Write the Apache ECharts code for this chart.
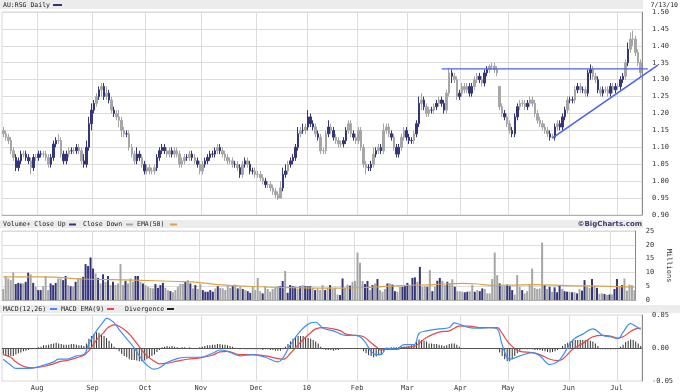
<!DOCTYPE html>
<html><head><meta charset="utf-8">
<script src="https://cdn.jsdelivr.net/npm/echarts@6/dist/echarts.min.js"></script>
<style>html,body{margin:0;padding:0;background:#fff}#c{width:680px;height:392px}</style>
</head><body><div id="c"></div>
<script>
// ---- price bars (AU:RSG daily) ----
const closes = [
1.14,1.13,1.12,1.09,1.07,1.04,1.06,1.08,1.08,1.07,
1.06,1.04,1.07,1.07,1.08,1.08,1.08,1.07,1.05,1.07,
1.11,1.12,1.12,1.08,1.06,1.08,1.09,1.09,1.09,1.10,
1.09,1.06,1.05,1.10,1.17,1.21,1.23,1.25,1.27,1.28,
1.25,1.26,1.24,1.21,1.20,1.19,1.18,1.15,1.14,1.14,
1.10,1.08,1.06,1.08,1.07,1.05,1.03,1.04,1.03,1.03,
1.04,1.07,1.09,1.10,1.09,1.08,1.09,1.08,1.09,1.08,
1.05,1.06,1.07,1.07,1.08,1.07,1.06,1.05,1.03,1.05,
1.06,1.07,1.08,1.08,1.09,1.10,1.09,1.08,1.07,1.06,
1.06,1.05,1.05,1.04,1.02,1.05,1.06,1.05,1.03,1.03,
1.02,1.02,1.01,1.00,0.99,0.99,0.98,0.97,0.96,0.95,
0.98,1.02,1.03,1.05,1.06,1.07,1.10,1.14,1.15,1.15,
1.16,1.19,1.17,1.16,1.14,1.13,1.09,1.09,1.14,1.16,
1.15,1.13,1.12,1.11,1.11,1.12,1.15,1.17,1.14,1.13,
1.12,1.15,1.10,1.05,1.04,1.04,1.05,1.08,1.09,1.10,
1.09,1.15,1.16,1.14,1.13,1.10,1.08,1.10,1.13,1.15,
1.13,1.12,1.12,1.14,1.17,1.23,1.24,1.22,1.20,1.21,
1.21,1.22,1.23,1.24,1.23,1.21,1.26,1.32,1.31,1.30,
1.25,1.26,1.28,1.27,1.28,1.26,1.28,1.30,1.31,1.30,
1.29,1.32,1.33,1.34,1.34,1.33,1.32,1.22,1.20,1.19,
1.17,1.15,1.14,1.19,1.22,1.23,1.23,1.22,1.23,1.24,
1.23,1.20,1.18,1.17,1.16,1.15,1.14,1.13,1.13,1.16,
1.17,1.16,1.19,1.21,1.24,1.24,1.24,1.27,1.28,1.27,
1.27,1.26,1.32,1.33,1.31,1.30,1.27,1.26,1.27,1.27,
1.26,1.28,1.27,1.28,1.28,1.30,1.31,1.35,1.39,1.42,
1.42,1.38,1.35,1.32];
const opens = [
1.15,1.14,1.13,1.12,1.09,1.07,1.04,1.06,1.08,1.08,
1.07,1.06,1.04,1.07,1.07,1.08,1.08,1.08,1.07,1.05,
1.07,1.11,1.12,1.12,1.08,1.06,1.08,1.09,1.09,1.09,
1.10,1.09,1.06,1.05,1.10,1.17,1.21,1.23,1.25,1.27,
1.28,1.25,1.26,1.24,1.21,1.20,1.19,1.18,1.15,1.14,
1.14,1.10,1.08,1.06,1.08,1.07,1.05,1.03,1.04,1.03,
1.03,1.04,1.07,1.09,1.10,1.09,1.08,1.09,1.08,1.09,
1.08,1.05,1.06,1.07,1.07,1.08,1.07,1.06,1.05,1.03,
1.05,1.06,1.07,1.08,1.08,1.09,1.10,1.09,1.08,1.07,
1.06,1.06,1.05,1.05,1.04,1.02,1.05,1.06,1.05,1.03,
1.03,1.02,1.02,1.01,1.00,0.99,0.99,0.98,0.97,0.96,
0.95,0.98,1.02,1.03,1.05,1.06,1.07,1.10,1.14,1.15,
1.15,1.16,1.19,1.17,1.16,1.14,1.13,1.09,1.09,1.14,
1.16,1.15,1.13,1.12,1.11,1.11,1.12,1.15,1.17,1.14,
1.13,1.12,1.15,1.10,1.05,1.04,1.04,1.05,1.08,1.09,
1.10,1.09,1.15,1.16,1.14,1.13,1.10,1.08,1.10,1.13,
1.15,1.13,1.12,1.12,1.14,1.17,1.23,1.24,1.22,1.20,
1.21,1.21,1.22,1.23,1.24,1.23,1.21,1.26,1.32,1.31,
1.30,1.25,1.26,1.28,1.27,1.28,1.26,1.28,1.30,1.31,
1.30,1.29,1.32,1.33,1.34,1.34,1.33,1.28,1.22,1.20,
1.19,1.17,1.15,1.14,1.19,1.22,1.23,1.23,1.22,1.23,
1.24,1.23,1.20,1.18,1.17,1.16,1.15,1.14,1.13,1.13,
1.16,1.17,1.16,1.19,1.21,1.24,1.24,1.24,1.27,1.28,
1.27,1.27,1.26,1.32,1.33,1.31,1.30,1.27,1.26,1.27,
1.27,1.26,1.28,1.27,1.28,1.28,1.30,1.31,1.35,1.39,
1.42,1.42,1.38,1.35];
const highs = [
1.16,1.15,1.14,1.13,1.10,1.08,1.07,1.09,1.09,1.09,
1.08,1.07,1.08,1.08,1.09,1.09,1.09,1.09,1.08,1.08,
1.12,1.13,1.14,1.13,1.09,1.09,1.10,1.10,1.10,1.11,
1.11,1.10,1.08,1.12,1.19,1.23,1.24,1.26,1.28,1.29,
1.29,1.28,1.27,1.25,1.22,1.21,1.21,1.19,1.16,1.15,
1.15,1.11,1.09,1.10,1.09,1.08,1.06,1.05,1.05,1.04,
1.05,1.08,1.10,1.11,1.11,1.10,1.10,1.10,1.10,1.10,
1.09,1.07,1.08,1.08,1.09,1.09,1.08,1.07,1.06,1.06,
1.07,1.08,1.09,1.09,1.10,1.11,1.11,1.10,1.09,1.08,
1.07,1.07,1.06,1.06,1.05,1.06,1.07,1.07,1.06,1.04,
1.04,1.03,1.03,1.02,1.01,1.00,1.00,0.99,0.98,0.97,
1.00,1.04,1.05,1.06,1.07,1.08,1.11,1.16,1.16,1.17,
1.17,1.21,1.20,1.18,1.17,1.15,1.14,1.10,1.15,1.18,
1.17,1.16,1.14,1.13,1.12,1.13,1.16,1.18,1.18,1.15,
1.14,1.16,1.16,1.11,1.06,1.05,1.06,1.10,1.10,1.11,
1.11,1.17,1.17,1.17,1.15,1.14,1.11,1.11,1.14,1.16,
1.16,1.14,1.13,1.15,1.18,1.25,1.26,1.25,1.23,1.22,
1.22,1.23,1.24,1.25,1.25,1.24,1.27,1.335,1.33,1.32,
1.31,1.27,1.29,1.29,1.29,1.29,1.29,1.31,1.32,1.32,
1.31,1.33,1.34,1.345,1.35,1.35,1.34,1.28,1.23,1.21,
1.20,1.18,1.16,1.20,1.23,1.24,1.24,1.24,1.24,1.25,
1.25,1.24,1.21,1.19,1.18,1.17,1.16,1.15,1.14,1.17,
1.18,1.18,1.20,1.22,1.25,1.25,1.25,1.28,1.29,1.29,
1.28,1.28,1.33,1.345,1.34,1.32,1.31,1.28,1.28,1.28,
1.28,1.29,1.29,1.29,1.29,1.31,1.32,1.36,1.41,1.44,
1.445,1.43,1.39,1.36];
const lows = [
1.13,1.12,1.11,1.08,1.06,1.03,1.03,1.05,1.07,1.06,
1.05,1.02,1.03,1.06,1.06,1.07,1.07,1.06,1.04,1.04,
1.06,1.10,1.11,1.07,1.05,1.05,1.07,1.08,1.08,1.08,
1.08,1.05,1.04,1.04,1.09,1.15,1.20,1.22,1.24,1.25,
1.24,1.24,1.23,1.20,1.19,1.18,1.16,1.13,1.13,1.13,
1.09,1.07,1.05,1.05,1.06,1.04,1.02,1.02,1.02,1.02,
1.02,1.03,1.06,1.08,1.08,1.07,1.07,1.07,1.07,1.07,
1.04,1.04,1.05,1.06,1.06,1.06,1.05,1.04,1.02,1.02,
1.04,1.05,1.06,1.07,1.07,1.08,1.08,1.07,1.06,1.05,
1.05,1.04,1.04,1.03,1.01,1.01,1.04,1.04,1.02,1.02,
1.01,1.01,1.00,0.99,0.98,0.98,0.97,0.96,0.95,0.945,
0.95,0.97,1.01,1.02,1.04,1.05,1.06,1.09,1.13,1.14,
1.14,1.15,1.16,1.15,1.13,1.12,1.08,1.08,1.08,1.13,
1.14,1.12,1.11,1.10,1.10,1.10,1.11,1.14,1.13,1.12,
1.11,1.11,1.09,1.04,1.02,1.03,1.03,1.04,1.07,1.08,
1.08,1.08,1.14,1.13,1.12,1.09,1.07,1.07,1.09,1.12,
1.12,1.11,1.11,1.11,1.13,1.16,1.21,1.21,1.19,1.19,
1.20,1.20,1.21,1.22,1.22,1.20,1.20,1.25,1.29,1.29,
1.24,1.24,1.25,1.26,1.26,1.25,1.25,1.27,1.29,1.29,
1.28,1.28,1.31,1.32,1.33,1.32,1.31,1.21,1.19,1.18,
1.16,1.14,1.13,1.13,1.18,1.21,1.22,1.21,1.21,1.22,
1.22,1.19,1.17,1.16,1.15,1.14,1.13,1.12,1.125,1.12,
1.15,1.15,1.15,1.18,1.20,1.23,1.23,1.23,1.26,1.26,
1.26,1.25,1.25,1.30,1.30,1.29,1.26,1.25,1.25,1.26,
1.25,1.25,1.26,1.26,1.27,1.27,1.29,1.30,1.34,1.38,
1.40,1.37,1.34,1.31];

// ---- volume (millions) and close-up / close-down flags ----
const volumes = [
4.0,8.7,7.8,7.2,10.0,5.8,6.2,6.0,6.0,6.6,
9.9,9.3,6.2,4.8,3.6,3.6,5.0,8.7,3.6,6.0,
5.4,6.2,7.8,7.8,7.2,8.7,5.4,5.0,4.8,6.6,
7.8,8.0,8.4,13.0,12.3,15.4,11.4,9.6,8.0,6.0,
9.3,6.6,8.7,5.4,6.6,5.4,6.0,13.0,5.4,6.9,
6.0,7.8,6.6,8.7,8.7,6.6,6.0,5.4,4.8,4.4,
4.2,5.8,4.4,5.4,6.2,4.4,3.6,3.2,2.8,3.6,
4.8,5.8,5.8,6.6,7.2,6.0,4.2,5.4,4.0,5.8,
3.6,3.0,3.0,3.6,3.0,4.2,5.0,4.4,4.2,3.6,
5.2,4.4,5.0,5.6,4.2,4.8,4.0,3.6,3.2,2.6,
4.8,3.6,8.0,3.2,2.4,5.0,4.0,3.0,4.0,4.4,
5.0,5.0,6.9,10.5,2.6,5.4,5.0,4.8,4.0,5.0,
5.4,5.0,5.0,5.0,4.4,3.6,4.0,3.6,5.4,3.6,
4.4,5.4,4.0,4.4,
2.0,1.8,7.8,4.4,5.6,5.2,6.6,6.9,17.2,13.5,
6.9,5.8,6.9,3.6,5.4,6.0,7.6,3.6,3.0,4.0,
6.0,6.0,5.6,3.2,3.0,4.8,4.8,5.0,6.2,5.2,
8.0,8.2,6.6,12.0,4.8,5.0,4.8,10.8,3.2,4.8,
7.0,8.0,7.0,5.4,6.6,6.0,7.5,4.8,3.2,3.2,
3.0,2.8,3.0,3.2,5.4,3.0,3.6,3.2,4.2,4.0,
2.4,2.4,7.6,17.2,9.0,6.0,5.0,5.0,5.6,5.0,
3.6,2.0,9.0,4.8,3.6,2.4,3.2,5.4,11.4,4.4,
4.0,4.2,20.8,5.4,4.0,4.8,3.0,4.6,2.8,5.4,
4.0,3.2,3.0,3.0,2.8,2.8,2.4,4.0,3.4,7.2,
4.8,4.4,7.6,5.2,4.4,2.2,2.4,2.2,1.8,2.0,
2.0,4.0,7.6,4.8,5.4,7.8,3.4,5.6,5.4,3.6];
const upFlags = [
"ddddduuudu","ududuudddu","uudduududu","dduuuuudud","udududdddu",
"ddduududdd","duuuuddudd","dddudududd","uuuuududdd","ddudududuu",
"dddduddddd","duuduuuudu","duuududddu","dudd",
"duuddudddd","duudududdd","uduudduuud","uududdudud","uudduddudd",
"duudduduud","dddddudduu","uddduddddd","dddududuuu","duudududuu",
"ddududdudu","duududdddd"].join("");
// EMA(50) of volume, read at points along the curve [bar index, millions]
const volEma = [[0,8.4],[16,8.4],[32,7.6],[52,7.2],[70,6.7],[78,6.4],[86,5.6],[100,4.9],
  [115,4.5],[134,4.3],[147,4.6],[160,5.2],[173,5.6],[184,6.0],[190,5.8],[196,5.3],
  [204,5.4],[213,5.6],[226,5.2],[239,5.0],[253,4.7]];

// ---- MACD(12,26), EMA(9), divergence ----
const macdLine = [[0,-0.017],[3,-0.026],[5,-0.031],[9,-0.031],[12,-0.030],[16,-0.026],[20,-0.021],
  [22,-0.017],[25,-0.017],[29,-0.012],[32,-0.010],[34,0.007],[37,0.026],[40,0.041],[41,0.045],
  [42,0.044],[44,0.038],[46,0.028],[49,0.014],[52,0.000],[54,-0.012],[57,-0.026],[60,-0.032],
  [62,-0.030],[65,-0.022],[69,-0.016],[73,-0.014],[78,-0.014],[83,-0.008],[86,-0.003],[89,-0.005],
  [94,-0.012],[99,-0.010],[104,-0.014],[109,-0.021],[111,-0.015],[114,0.005],[118,0.026],
  [122,0.038],[124,0.039],[127,0.030],[131,0.026],[134,0.021],[136,0.019],[140,0.019],[143,0.012],
  [146,-0.005],[148,-0.010],[150,-0.010],[152,0.000],[156,-0.002],[159,0.005],[163,0.005],
  [165,0.022],[168,0.026],[173,0.029],[177,0.031],[179,0.038],[181,0.036],[185,0.031],[189,0.030],
  [193,0.031],[196,0.029],[198,0.005],[201,-0.017],[205,-0.012],[210,-0.007],[213,-0.012],
  [217,-0.025],[220,-0.021],[222,-0.012],[226,0.012],[230,0.021],[234,0.029],[238,0.019],
  [241,0.017],[244,0.014],[246,0.024],[249,0.037],[251,0.033],[253,0.028]];
const signalLine = [[0,-0.010],[3,-0.014],[5,-0.021],[9,-0.029],[12,-0.030],[16,-0.028],[20,-0.024],
  [22,-0.021],[25,-0.019],[29,-0.015],[32,-0.011],[34,-0.004],[37,0.012],[40,0.024],[41,0.029],
  [42,0.032],[44,0.035],[46,0.033],[49,0.025],[52,0.012],[54,0.002],[57,-0.012],[60,-0.020],
  [62,-0.024],[65,-0.023],[69,-0.020],[73,-0.017],[78,-0.015],[83,-0.011],[86,-0.006],[89,-0.005],
  [94,-0.010],[99,-0.010],[104,-0.012],[109,-0.016],[111,-0.017],[114,-0.008],[118,0.009],
  [122,0.023],[124,0.029],[127,0.031],[131,0.029],[134,0.026],[136,0.021],[140,0.019],[143,0.017],
  [146,0.008],[148,0.002],[150,-0.003],[152,-0.002],[156,-0.002],[159,0.001],[163,0.002],
  [165,0.007],[168,0.016],[173,0.024],[177,0.026],[179,0.030],[181,0.033],[185,0.033],[189,0.031],
  [193,0.031],[196,0.031],[198,0.022],[201,0.006],[205,-0.005],[210,-0.007],[213,-0.010],
  [217,-0.017],[220,-0.019],[222,-0.017],[226,-0.002],[230,0.007],[234,0.017],[238,0.019],
  [241,0.018],[244,0.015],[246,0.017],[249,0.025],[251,0.029],[253,0.030]];
const divergence = [
-0.010,-0.012,-0.013,-0.012,-0.012,-0.010,-0.008,-0.007,-0.005,-0.004,
-0.003,-0.002,-0.001,0.000,0.001,0.002,0.004,0.004,0.005,0.006,
0.007,0.008,0.007,0.006,0.005,0.005,0.005,0.006,0.006,0.005,
0.004,0.004,0.003,0.007,0.014,0.018,0.021,0.024,0.023,0.021,
0.018,0.015,0.011,0.007,0.002,-0.002,-0.005,-0.009,-0.012,-0.014,
-0.017,-0.018,-0.018,-0.019,-0.020,-0.020,-0.019,-0.017,-0.015,-0.012,
-0.010,-0.006,-0.003,0.001,0.002,0.003,0.002,0.003,0.002,0.001,
0.000,0.001,0.001,0.000,0.001,0.000,-0.001,0.000,0.001,0.002,
0.003,0.004,0.004,0.005,0.005,0.006,0.006,0.005,0.005,0.004,
0.003,0.002,0.000,-0.001,-0.002,-0.001,-0.002,-0.002,-0.002,-0.002,
-0.002,-0.002,-0.002,-0.003,-0.002,-0.002,-0.003,-0.003,-0.004,-0.004,
-0.004,-0.002,0.002,0.006,0.010,0.014,0.017,0.018,0.018,0.018,
0.016,0.015,0.014,0.012,0.010,0.007,0.002,-0.002,-0.003,-0.003,
-0.003,-0.004,-0.003,-0.003,-0.001,-0.001,-0.001,-0.001,-0.001,-0.001,
-0.001,-0.001,-0.002,-0.005,-0.008,-0.011,-0.012,-0.014,-0.013,-0.011,
-0.009,-0.006,-0.003,0.000,0.001,0.001,0.001,0.001,0.002,0.002,
0.002,0.003,0.004,0.005,0.009,0.013,0.012,0.011,0.010,0.007,
0.007,0.006,0.006,0.005,0.004,0.003,0.004,0.006,0.007,0.007,
0.005,0.002,0.000,-0.001,-0.001,-0.001,-0.001,-0.001,-0.001,-0.001,
-0.001,-0.001,0.000,-0.001,-0.001,-0.001,-0.002,-0.007,-0.012,-0.017,
-0.020,-0.020,-0.017,-0.012,-0.008,-0.004,-0.002,-0.002,-0.002,-0.002,
-0.002,-0.003,-0.003,-0.003,-0.004,-0.005,-0.006,-0.007,-0.006,-0.005,
-0.003,-0.001,0.003,0.006,0.008,0.010,0.012,0.012,0.012,0.012,
0.012,0.012,0.012,0.011,0.010,0.007,0.003,-0.002,-0.002,-0.002,
-0.002,-0.002,-0.002,-0.002,-0.001,0.002,0.005,0.009,0.011,0.013,
0.012,0.010,0.007,0.003];

// ---- time axis: first bar of each month, and labels ----
const monthStartBars = [14,36,57,79,101,121,141,161,182,201,225,244];
const monthLabels = ["Aug","Sep","Oct","Nov","Dec","10","Feb","Mar","Apr","May","Jun","Jul"];

// ---- drawn trend lines [bar position, price] ----
const resistanceLine = [[174,1.332],[255.8,1.332]];
const supportLine = [[218,1.128],[259.8,1.343]];

// ---------------------------------------------------------------
const NAVY = '#35357a', GRAY = '#a6a6a6';
const FONT = '"DejaVu Sans Mono", monospace';
const categories = closes.map((_, i) => String(i));
const monthSet = new Set(monthStartBars);
const labelOf = {}; monthStartBars.forEach((b, k) => labelOf[b] = monthLabels[k]);
const colorOf = i => upFlags[i] === 'u' ? NAVY : GRAY;

const priceData = closes.map((c, i) => {
  const col = colorOf(i);
  return { value: [opens[i], c, lows[i], highs[i]],
    itemStyle: { color: col, color0: col, borderColor: col, borderColor0: col } };
});
const volData = volumes.map((v, i) => ({ value: v, itemStyle: { color: colorOf(i) } }));

// layout of the price panel; an overlay grid wider than the panel carries the trend lines,
// with an x scale matched to the bar bands so the lines can run past the right edge.
const PL = 2, PW = 640, PT = 12, PH = 203, OVER_W = 676;
const barsN = categories.length;
const overlayMax = -0.5 + barsN * OVER_W / PW;

function xAxisFor(g) {
  return {
    type: 'category', gridIndex: g, data: categories, boundaryGap: true,
    axisTick: { show: false },
    axisLine: { show: true, lineStyle: { color: '#b0b0b0', width: 1 } },
    axisLabel: { show: g === 2, interval: (idx) => monthSet.has(idx),
      formatter: (v, idx) => labelOf[idx] || '', fontFamily: FONT, fontSize: 7, color: '#333', margin: 4,
      padding: [0, 3, 0, 0] },
    splitLine: { show: true, interval: (idx) => monthSet.has(idx), lineStyle: { color: '#dcdcdc', width: 1 } }
  };
}
function yAxisFor(g, min, max, interval, fmt, extra) {
  return Object.assign({
    type: 'value', gridIndex: g, position: 'right', min, max, interval,
    axisLine: { show: true, lineStyle: { color: '#8a8a8a', width: 1 } },
    axisTick: { show: false },
    axisLabel: { formatter: fmt, fontFamily: FONT, fontSize: 7, color: '#333', margin: 10 },
    splitLine: { show: true, lineStyle: { color: '#dcdcdc', width: 1 } }
  }, extra || {});
}

const HF = '6.5px ' + FONT;
const txt = (x, y, text, fill, extra) => ({ type: 'text', x, y, silent: true,
  style: Object.assign({ text, font: HF, fill: fill || '#222', verticalAlign: 'middle' }, extra || {}) });
const swatch = (x, y, w, fill) => ({ type: 'rect', silent: true, shape: { x, y: y - 1, width: w, height: 2 }, style: { fill } });
const band = (x, y, w, h) => ({ type: 'rect', silent: true, z: -10, shape: { x, y, width: w, height: h }, style: { fill: '#ececec' } });

const chart = echarts.init(document.getElementById('c'));
chart.setOption({
  animation: false,
  backgroundColor: '#fff',
  grid: [
    { left: PL, top: PT, width: PW, height: PH, show: true, borderColor: '#d6d6d6', borderWidth: 1, backgroundColor: '#fff' },
    { left: 2, top: 231, width: 640, height: 69, show: true, borderColor: '#d6d6d6', borderWidth: 1, backgroundColor: '#fff' },
    { left: 2, top: 315, width: 640, height: 68, show: true, borderColor: '#d6d6d6', borderWidth: 1, backgroundColor: '#fff' },
    { left: PL, top: PT, width: OVER_W, height: PH, show: false }
  ],
  xAxis: [xAxisFor(0), xAxisFor(1), xAxisFor(2),
    { type: 'value', gridIndex: 3, min: -0.5, max: overlayMax, show: false, splitLine: { show: false } }],
  yAxis: [
    yAxisFor(0, 0.9, 1.5, 0.05, v => v.toFixed(2)),
    yAxisFor(1, 0, 25, 5, v => String(v), { name: 'Millions', nameLocation: 'middle', nameRotate: -90, nameGap: 29,
      nameTextStyle: { fontFamily: FONT, fontSize: 7, color: '#333' } }),
    yAxisFor(2, -0.05, 0.05, 0.05, v => v.toFixed(2), { splitLine: { show: false } }),
    { type: 'value', gridIndex: 3, min: 0.9, max: 1.5, show: false, splitLine: { show: false } }
  ],
  series: [
    { type: 'candlestick', xAxisIndex: 0, yAxisIndex: 0, barWidth: 2, data: priceData,
      itemStyle: { borderWidth: 1 } },
    { type: 'line', xAxisIndex: 3, yAxisIndex: 3, data: resistanceLine, showSymbol: false,
      lineStyle: { color: '#4b63ee', width: 1.4 }, z: 5, silent: true },
    { type: 'line', xAxisIndex: 3, yAxisIndex: 3, data: supportLine, showSymbol: false,
      lineStyle: { color: '#4b63ee', width: 1.6 }, z: 5, silent: true },
    { type: 'bar', xAxisIndex: 1, yAxisIndex: 1, barWidth: 2, data: volData },
    { type: 'line', xAxisIndex: 1, yAxisIndex: 1, data: volEma, smooth: 0.4, showSymbol: false,
      lineStyle: { color: '#d9a548', width: 1.2 }, z: 5 },
    { type: 'bar', xAxisIndex: 2, yAxisIndex: 2, barWidth: 1, data: divergence,
      itemStyle: { color: '#303030' },
      markLine: { silent: true, symbol: 'none', label: { show: false },
        lineStyle: { color: '#555', width: 1, type: 'solid' }, data: [{ yAxis: 0 }] } },
    { type: 'line', xAxisIndex: 2, yAxisIndex: 2, data: macdLine, smooth: 0.4, showSymbol: false,
      lineStyle: { color: '#3e8ef3', width: 1.2 }, z: 5 },
    { type: 'line', xAxisIndex: 2, yAxisIndex: 2, data: signalLine, smooth: 0.4, showSymbol: false,
      lineStyle: { color: '#e5484d', width: 1.2 }, z: 4 }
  ],
  graphic: [
    band(0, 0, 643, 9),
    txt(3, 5, 'AU:RSG Daily'), swatch(53, 5, 9, NAVY),
    txt(678, 5, '7/13/10', '#222', { align: 'right' }),
    band(0, 220, 643, 8),
    txt(3, 224.5, 'Volume+ Close Up'), swatch(69, 224.5, 7, NAVY),
    txt(83, 224.5, 'Close Down'), swatch(126, 224.5, 7, GRAY),
    txt(137, 224.5, 'EMA(50)'), swatch(170, 224.5, 7, '#d9a548'),
    txt(642, 224.5, '\u00a9BigCharts.com', '#3b3b6e', { align: 'right', font: 'bold 7px "DejaVu Sans", sans-serif' }),
    band(0, 305, 680, 8),
    txt(3, 309, 'MACD(12,26)'), swatch(50, 309, 7, '#3e8ef3'),
    txt(61, 309, 'MACD EMA(9)'), swatch(107, 309, 7, '#e5484d'),
    txt(125, 309, 'Divergence'), swatch(167, 309, 7, '#222')
  ]
});
</script></body></html>
